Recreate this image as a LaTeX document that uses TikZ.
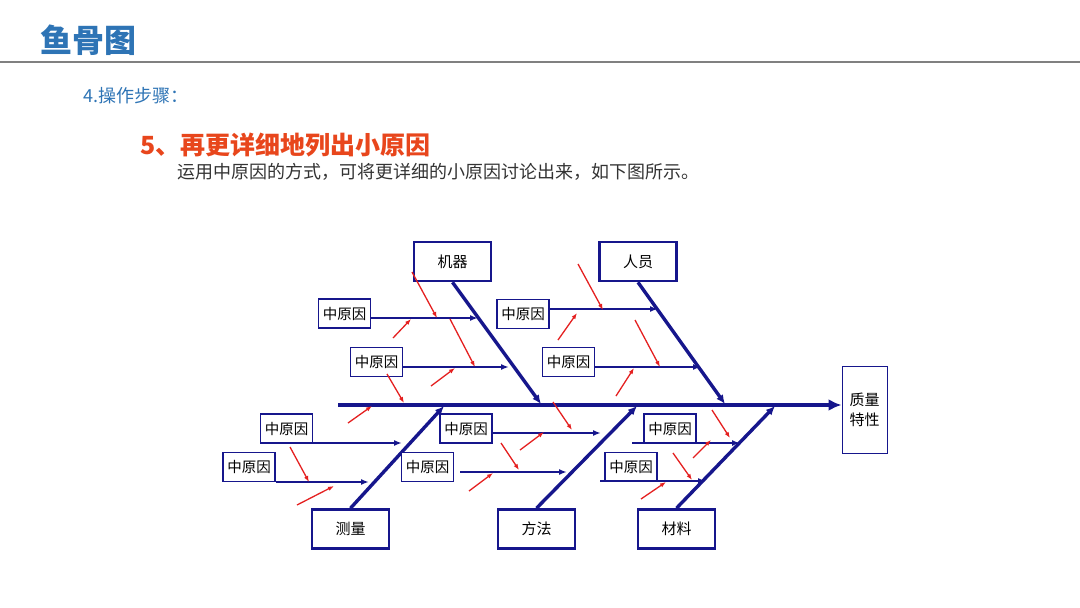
\documentclass[tikz,border=0pt]{standalone}
\usepackage{fontspec}
\setmainfont{Noto Sans CJK SC}
\usetikzlibrary{arrows.meta}
\definecolor{navy}{RGB}{22,22,140}
\definecolor{titleblue}{RGB}{46,116,181}
\definecolor{causered}{RGB}{228,32,32}
\definecolor{steporange}{RGB}{232,70,28}
\definecolor{rulegray}{RGB}{128,128,128}
\tikzset{
  catbox/.style={draw=navy, line width=2.6pt, fill=white, minimum width=77pt,
    minimum height=39pt, inner sep=0pt, font=\fontsize{15}{15}\selectfont},
  midbox/.style={draw=navy, line width=1.3pt, fill=white, minimum width=52pt,
    minimum height=29pt, inner sep=0pt, font=\fontsize{14.5}{14.5}\selectfont},
  effectbox/.style={draw=navy, line width=1pt, minimum width=45pt, minimum height=87pt,
    inner sep=0pt, align=center, font=\fontsize{15}{20}\selectfont},
  spine/.style={navy, line width=4pt, -{Latex[length=13pt,width=12pt]}},
  bone/.style={navy, line width=3.4pt, -{Latex[length=9pt,width=8pt]}},
  twig/.style={navy, line width=1.6pt, -{Latex[length=8pt,width=6pt]}},
  small/.style={causered, line width=1.3pt, -{Latex[length=6pt,width=4.5pt]}},
  plain/.style={anchor=west, inner sep=0pt},
}
\begin{document}
\begin{tikzpicture}[x=1pt, y=-1pt]
  \useasboundingbox (0,0) rectangle (1080,608);
  % header
  \node[plain, text=titleblue, font=\fontsize{32}{32}\selectfont\bfseries] (title) at (40,40) {鱼骨图};
  \draw[rulegray, line width=1.6pt] (0,62) -- (1080,62);
  \node[plain, text=titleblue, font=\fontsize{18}{18}\selectfont] (stepno) at (83,96) {4.操作步骤：};
  \node[plain, text=steporange, font=\fontsize{25}{25}\selectfont\bfseries] (stephead) at (140,145) {5、再更详细地列出小原因};
  \node[plain, text=black!80, font=\fontsize{18}{18}\selectfont] (steptext) at (177,172) {运用中原因的方式，可将更详细的小原因讨论出来，如下图所示。};
  % category boxes
  \node[catbox] (jiqi) at (452.5,261.5) {机器};
  \node[catbox] (renyuan) at (638,261.5) {人员};
  \node[catbox] (celiang) at (350.5,529) {测量};
  \node[catbox] (fangfa) at (536.5,529) {方法};
  \node[catbox] (cailiao) at (676.5,529) {材料};
  \node[effectbox] (effect) at (864.5,409.5) {质量\\特性};
  % spine and bones
  \coordinate (tail) at (338,405);
  \coordinate (jend) at (541,404);
  \coordinate (rend) at (725,404);
  \coordinate (cend) at (444,406);
  \coordinate (fend) at (637,406);
  \coordinate (mend) at (775,406);
  \draw[spine] (tail) -- (tail -| effect.west);
  \draw[bone] (jiqi.south) to (jend);
  \draw[bone] (renyuan.south) to (rend);
  \draw[bone] (celiang.north) to (cend);
  \draw[bone] (fangfa.north) to (fend);
  \draw[bone] (cailiao.north) to (mend);
  % middle causes
  \node[midbox] (ma) at (344.5,313.5) {中原因};
  \node[midbox] (mb) at (376.5,362) {中原因};
  \node[midbox] (mc) at (523,314) {中原因};
  \node[midbox] (md) at (568.5,362) {中原因};
  \node[midbox] (me) at (286.5,428.5) {中原因};
  \node[midbox] (mf) at (249,467) {中原因};
  \node[midbox] (mg) at (466,428.5) {中原因};
  \node[midbox] (mh) at (427.5,467) {中原因};
  \node[midbox] (mi) at (670,428.5) {中原因};
  \node[midbox] (mj) at (631,467) {中原因};
  \coordinate (ta) at (478,318);
  \coordinate (tb) at (509,367);
  \coordinate (tc) at (658,309);
  \coordinate (td) at (701,367);
  \coordinate (te) at (402,443);
  \coordinate (tf) at (369,482);
  \coordinate (tg) at (601,433);
  \coordinate (th) at (567,472);
  \coordinate (sh) at (460,472);
  \coordinate (ti) at (740,443);
  \coordinate (si) at (632,443);
  \coordinate (tj) at (706,481);
  \coordinate (sj) at (600,481);
  \begin{scope}[twig]
    \draw (ma.east |- ta) to (ta);
    \draw (mb.east |- tb) to (tb);
    \draw (mc.east |- tc) to (tc);
    \draw (md.east |- td) to (td);
    \draw (me.east |- te) to (te);
    \draw (mf.east |- tf) to (tf);
    \draw (mg.east |- tg) to (tg);
    \draw (sh) to (th);
    \draw (si) to (ti);
    \draw (sj) to (tj);
  \end{scope}
  % small causes
  \begin{scope}[small]
    \draw (412,272) to (437,318);
    \draw (393,338) to (411,319);
    \draw (450,319) to (475,367);
    \draw (431,386) to (455,368);
    \draw (387,374) to (404,403);
    \draw (348,423) to (372,406);
    \draw (578,264) to (603,310);
    \draw (558,340) to (577,313);
    \draw (635,320) to (660,367);
    \draw (616,396) to (634,368);
    \draw (553,402) to (572,430);
    \draw (520,450) to (544,432);
    \draw (501,443) to (519,470);
    \draw (469,491) to (493,473);
    \draw (290,447) to (309,482);
    \draw (297,505) to (334,486);
    \draw (712,410) to (730,438);
    \draw (693,458) to (711,440);
    \draw (673,453) to (692,480);
    \draw (641,499) to (666,482);
  \end{scope}
\end{tikzpicture}
\end{document}
